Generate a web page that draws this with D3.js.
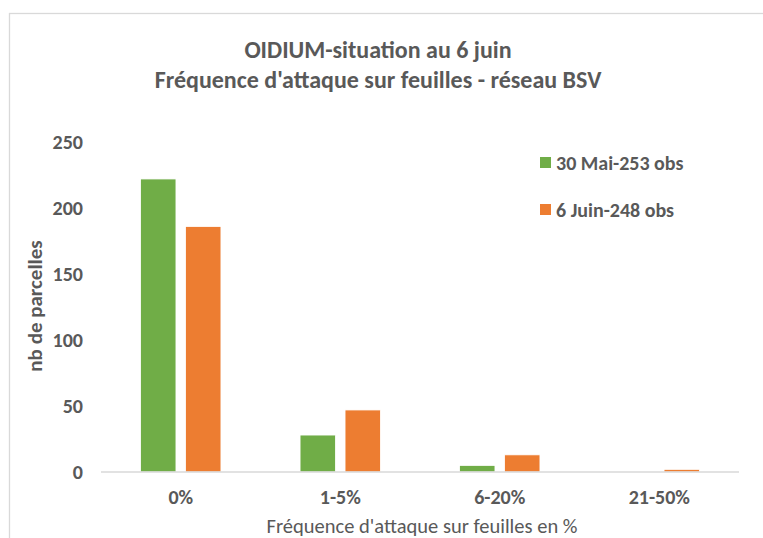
<!DOCTYPE html>
<html>
<head>
<meta charset="utf-8">
<title>OIDIUM - fréquence d'attaque</title>
<style>
  body { margin: 0; background: #fff; }
  svg text { font-family: Carlito, Calibri, Lato, "Open Sans", sans-serif; fill: #595959; }
  .frame { fill: none; stroke: #d9d9d9; stroke-width: 1.3px; }
</style>
</head>
<body>
<div id="chart"></div>
<script src="https://d3js.org/d3.v7.min.js"></script>
<script>
  // data
  var categories = ["0%", "1-5%", "6-20%", "21-50%"];
  var seriesNames = ["30 Mai-253 obs", "6 Juin-248 obs"];
  var mai30 = [222, 28, 5, 0];
  var juin6 = [186, 47, 13, 2];
  var yTicks = [0, 50, 100, 150, 200, 250];
  var colors = ["#70ad47", "#ed7d31"];

  var width = 763, height = 538;
  var margin = { left: 101, right: 24, top: 142, bottom: 66 };

  var svg = d3.select("#chart").append("svg")
      .attr("width", width)
      .attr("height", height);

  //  chart frame (cut off on the right and bottom as in the picture)
  svg.append("rect").attr("class", "frame")
      .attr("x", 9.5).attr("y", 13.5)
      .attr("width", 800).attr("height", 600);

  var x0 = d3.scaleBand()
      .domain(categories)
      .range([margin.left, width - margin.right])
      .paddingInner(0.496)
      .paddingOuter(0.248);

  var x1 = d3.scaleBand()
      .domain(seriesNames)
      .range([0, x0.bandwidth()])
      .paddingInner(0.213);

  var y = d3.scaleLinear()
      .domain([0, 250])
      .range([472, margin.top]);

  var series = seriesNames.map(function (name, i) {
    return { name: name, values: [mai30, juin6][i], color: colors[i] };
  });

  //  bars
  var groups = svg.append("g").selectAll("g")
      .data(series)
      .enter().append("g")
      .attr("fill", function (d) { return d.color; });

  groups.selectAll("rect")
      .data(function (s) {
        return s.values.map(function (v, i) { return { cat: categories[i], value: v, name: s.name }; });
      })
      .enter().append("rect")
      .attr("x", function (d) { return x0(d.cat) + x1(d.name); })
      .attr("width", x1.bandwidth())
      .attr("y", function (d) { return y(d.value); })
      .attr("height", function (d) { return y(0) - y(d.value); })
      .attr("stroke", "#fff")
      .attr("stroke-width", 0.8);

  //  x axis line
  svg.append("line")
      .attr("x1", margin.left).attr("x2", width - margin.right)
      .attr("y1", y(0)).attr("y2", y(0))
      .attr("stroke", "#d9d9d9").attr("stroke-width", 1.3);

  //  y tick labels
  svg.append("g").selectAll("text")
      .data(yTicks)
      .enter().append("text")
      .attr("x", 83)
      .attr("y", function (d) { return y(d); })
      .attr("dy", "0.35em")
      .attr("text-anchor", "end")
      .style("font-size", "20px")
      .style("font-weight", "bold")
      .text(function (d) { return d; });

  //  x tick labels
  svg.append("g").selectAll("text")
      .data(categories)
      .enter().append("text")
      .attr("x", function (d) { return x0(d) + x0.bandwidth() / 2; })
      .attr("y", 497)
      .attr("dy", "0.35em")
      .attr("text-anchor", "middle")
      .style("font-size", "20px")
      .style("font-weight", "bold")
      .text(function (d) { return d; });

  //  axis titles
  svg.append("text")
      .attr("x", 422)
      .attr("y", 526)
      .attr("dy", "0.35em")
      .attr("text-anchor", "middle")
      .style("font-size", "20.5px")
      .text("Fréquence d'attaque sur feuilles en %");

  svg.append("text")
      .attr("transform", "translate(35,306) rotate(-90)")
      .attr("dy", "0.35em")
      .attr("text-anchor", "middle")
      .style("font-size", "21px")
      .style("font-weight", "bold")
      .text("nb de parcelles");

  //  title
  var title = svg.append("text")
      .attr("text-anchor", "middle")
      .style("font-size", "24px")
      .style("font-weight", "bold");
  title.append("tspan").attr("x", 378).attr("y", 58).text("OIDIUM-situation au 6 juin");
  title.append("tspan").attr("x", 378).attr("y", 88).text("Fréquence d'attaque sur feuilles - réseau BSV");

  //  legend
  var legend = svg.append("g").selectAll("g")
      .data(series)
      .enter().append("g")
      .attr("transform", function (d, i) { return "translate(540," + (157 + i * 47) + ")"; });

  legend.append("rect")
      .attr("width", 11).attr("height", 11)
      .attr("fill", function (d) { return d.color; });

  legend.append("text")
      .attr("x", 16).attr("y", 5.5)
      .attr("dy", "0.35em")
      .style("font-size", "20px")
      .style("font-weight", "bold")
      .text(function (d) { return d.name; });
</script>
</body>
</html>
